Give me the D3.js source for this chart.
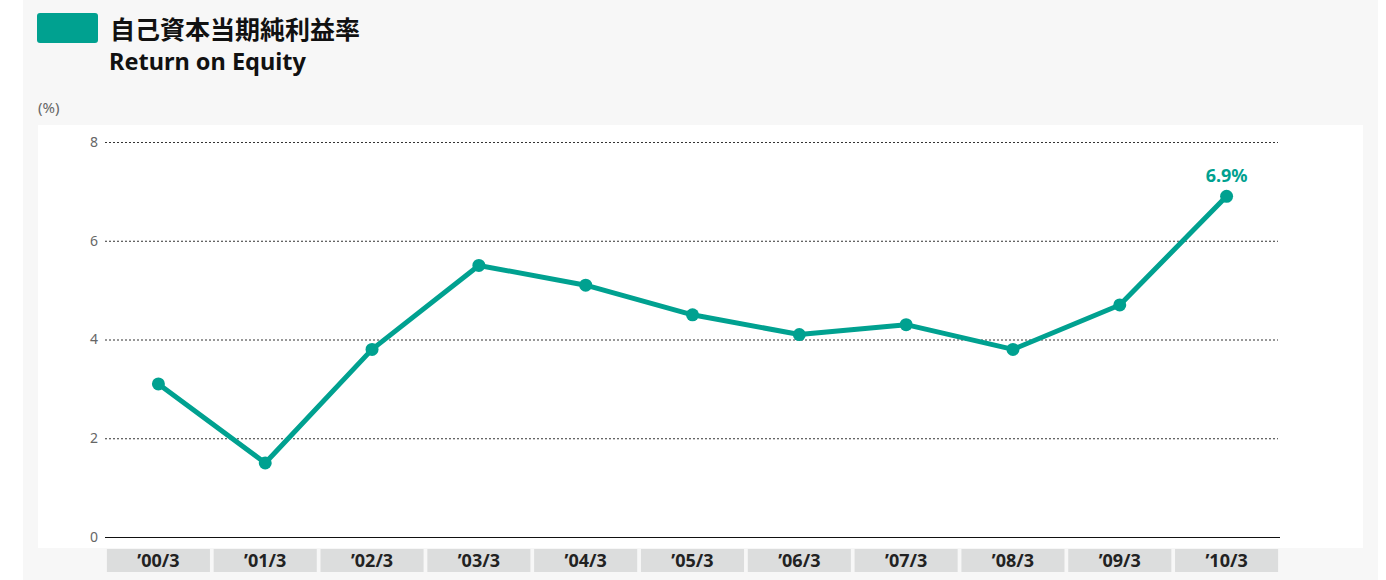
<!DOCTYPE html>
<html>
<head>
<meta charset="utf-8">
<script src="https://cdn.jsdelivr.net/npm/d3@7"></script>
<style>
  html, body { margin: 0; padding: 0; background: #fff; }
  svg { display: block; font-family: "Noto Sans", "Noto Sans CJK JP", sans-serif; }
</style>
</head>
<body>
<div id="chart"></div>
<script>
var categories = ["\u201900/3", "\u201901/3", "\u201902/3", "\u201903/3", "\u201904/3", "\u201905/3", "\u201906/3", "\u201907/3", "\u201908/3", "\u201909/3", "\u201910/3"];
var roe = [3.1, 1.5, 3.8, 5.5, 5.1, 4.5, 4.1, 4.3, 3.8, 4.7, 6.9];
var yTicks = [0, 2, 4, 6, 8];

var width = 1386, height = 580;
var teal = "#00a190";

var svg = d3.select("#chart").append("svg")
  .attr("width", width)
  .attr("height", height);

// panel backgrounds
svg.append("rect")
  .attr("x", 23).attr("y", -10).attr("width", 1355).attr("height", 600)
  .attr("rx", 10).attr("fill", "#f7f7f7");
svg.append("rect")
  .attr("x", 38).attr("y", 125).attr("width", 1325).attr("height", 423)
  .attr("fill", "#fff");

// title block
svg.append("rect")
  .attr("x", 37).attr("y", 13).attr("width", 61).attr("height", 30)
  .attr("rx", 3).attr("fill", teal);
svg.append("text")
  .attr("x", 110).attr("y", 39)
  .attr("font-family", "'Noto Sans CJK JP', sans-serif")
  .attr("font-weight", "bold").attr("font-size", 25).attr("fill", "#111")
  .text("自己資本当期純利益率");
svg.append("text")
  .attr("x", 109).attr("y", 70)
  .attr("font-weight", "bold").attr("font-size", 23.5).attr("fill", "#111")
  .text("Return on Equity");
svg.append("text")
  .attr("x", 38).attr("y", 113)
  .attr("font-size", 15).attr("fill", "#666")
  .text("(%)");

var x = d3.scaleBand().domain(categories).range([105, 1280]).paddingInner(0.035).paddingOuter(0.0175);
var y = d3.scaleLinear().domain([0, 8]).range([537, 142]);

// gridlines
svg.append("g")
  .selectAll("line")
  .data(yTicks.filter(function (d) { return d > 0; }))
  .enter().append("line")
  .attr("x1", 105).attr("x2", 1278)
  .attr("y1", function (d) { return y(d) + 0.5; })
  .attr("y2", function (d) { return y(d) + 0.5; })
  .attr("stroke", "#333").attr("stroke-width", 1)
  .attr("stroke-dasharray", "2,2");

svg.append("line")
  .attr("x1", 105).attr("x2", 1280)
  .attr("y1", y(0) + 0.5).attr("y2", y(0) + 0.5)
  .attr("stroke", "#111").attr("stroke-width", 1);

// y labels
svg.append("g")
  .selectAll("text")
  .data(yTicks)
  .enter().append("text")
  .attr("x", 98).attr("y", function (d) { return y(d); })
  .attr("dy", "0.35em").attr("text-anchor", "end")
  .attr("font-size", 14).attr("fill", "#666")
  .text(function (d) { return d; });

// category boxes
var cat = svg.append("g").selectAll("g")
  .data(categories)
  .enter().append("g");
cat.append("rect")
  .attr("x", function (d) { return x(d); })
  .attr("y", 549).attr("width", x.bandwidth()).attr("height", 23)
  .attr("fill", "#dcdddd");
cat.append("text")
  .attr("x", function (d) { return x(d) + x.bandwidth() / 2; })
  .attr("y", 561).attr("dy", "0.36em").attr("text-anchor", "middle")
  .attr("font-weight", "bold").attr("font-size", 18).attr("fill", "#222")
  .text(function (d) { return d; });

// line + dots
var cx = function (d, i) { return x(categories[i]) + x.bandwidth() / 2; };
var line = d3.line().x(cx).y(function (d) { return y(d); });
svg.append("path")
  .datum(roe)
  .attr("d", line)
  .attr("fill", "none").attr("stroke", teal)
  .attr("stroke-width", 5).attr("stroke-linejoin", "round");
svg.append("g").selectAll("circle")
  .data(roe)
  .enter().append("circle")
  .attr("cx", cx).attr("cy", function (d) { return y(d); })
  .attr("r", 6.5).attr("fill", teal);

// last value label
var last = roe.length - 1;
svg.append("text")
  .attr("x", cx(roe[last], last)).attr("y", y(roe[last]) - 14)
  .attr("text-anchor", "middle")
  .attr("font-weight", "bold").attr("font-size", 18).attr("fill", teal)
  .text(roe[last] + "%");
</script>
</body>
</html>
